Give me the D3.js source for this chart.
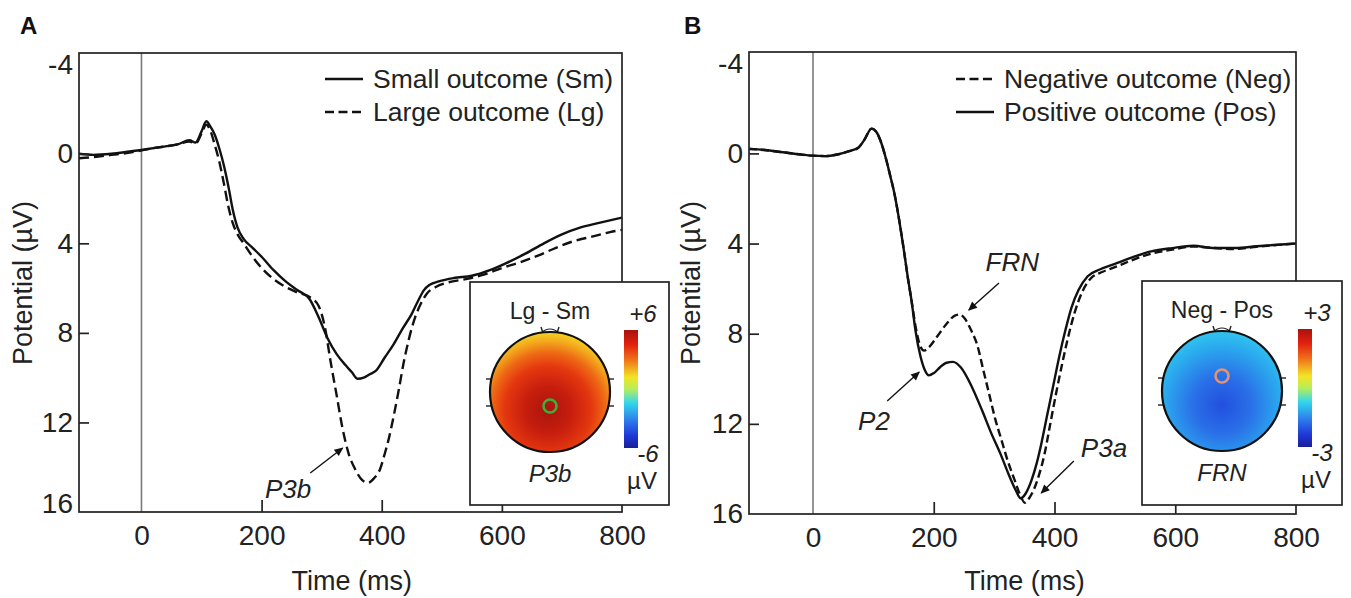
<!DOCTYPE html>
<html>
<head>
<meta charset="utf-8">
<script src="https://cdn.jsdelivr.net/npm/d3@7"></script>
<style>
  body { margin: 0; background: #fff; }
  svg { display: block; font-family: "Liberation Sans", Arial, Helvetica, sans-serif; }
</style>
</head>
<body>
<script>
// ---- data ----
// panel A: small vs large outcome
var timeSm = [-104, -80, -50, -20, 0, 20, 40, 60, 80, 90, 100, 108, 115, 122, 130, 137, 145, 152, 160, 170, 185, 200, 220, 240, 260, 280, 295, 310, 325, 340, 350, 360, 370, 380, 390, 405, 420, 435, 450, 460, 470, 480, 495, 520, 550, 580, 610, 640, 670, 700, 730, 760, 800];
var small = [0.0, 0.05, 0.0, -0.1, -0.17, -0.25, -0.33, -0.42, -0.6, -0.5, -1.0, -1.45, -1.2, -0.85, -0.2, 0.5, 1.5, 2.5, 3.3, 3.8, 4.2, 4.6, 5.2, 5.7, 6.1, 6.5, 7.3, 8.25, 8.95, 9.45, 9.75, 10.05, 10.0, 9.85, 9.7, 9.1, 8.5, 7.8, 7.15, 6.6, 6.1, 5.85, 5.7, 5.55, 5.45, 5.2, 4.85, 4.45, 4.0, 3.6, 3.3, 3.1, 2.85];

var timeLg = [-104, -80, -50, -20, 0, 20, 40, 60, 80, 90, 100, 108, 115, 122, 130, 137, 145, 152, 160, 170, 185, 200, 220, 240, 260, 280, 295, 305, 315, 325, 335, 345, 355, 365, 377, 387, 397, 405, 412, 420, 428, 436, 445, 455, 465, 475, 490, 510, 540, 570, 600, 630, 660, 690, 720, 750, 780, 800];
var large = [0.2, 0.15, 0.05, -0.05, -0.15, -0.25, -0.33, -0.42, -0.55, -0.45, -0.9, -1.3, -1.0, -0.4, 0.4, 1.3, 2.4, 3.1, 3.6, 4.0, 4.6, 5.1, 5.6, 5.95, 6.2, 6.4, 6.8, 7.7, 9.3, 10.8, 12.3, 13.4, 14.05, 14.5, 14.7, 14.5, 14.1, 13.4, 12.7, 11.7, 10.6, 9.4, 8.3, 7.35, 6.7, 6.25, 5.95, 5.75, 5.6, 5.4, 5.1, 4.85, 4.55, 4.2, 3.9, 3.7, 3.5, 3.4];

// panel B: negative vs positive outcome
var timeNeg = [-106, -80, -50, -20, 0, 20, 40, 60, 75, 85, 97, 105, 112, 120, 128, 135, 143, 150, 157, 163, 170, 177, 184, 192, 205, 220, 235, 243, 252, 262, 272, 282, 292, 302, 312, 322, 334, 343, 351, 358, 366, 374, 383, 393, 403, 413, 423, 433, 445, 460, 480, 500, 530, 560, 595, 630, 665, 700, 735, 770, 800];
var negative = [-0.2, -0.15, -0.05, 0.05, 0.1, 0.12, 0.05, -0.1, -0.25, -0.6, -1.1, -0.95, -0.55, 0.15, 1.0, 1.8, 3.0, 4.2, 5.5, 6.5, 7.7, 8.5, 8.75, 8.6, 8.15, 7.6, 7.2, 7.15, 7.35, 7.85, 8.5, 9.6, 10.7, 11.8, 12.7, 13.6, 14.5, 15.15, 15.5, 15.3, 14.9, 14.3, 13.4, 12.0, 10.6, 9.3, 8.1, 7.1, 6.2, 5.55, 5.25, 5.05, 4.72, 4.45, 4.27, 4.13, 4.2, 4.24, 4.14, 4.06, 4.0];

var timePos = [-106, -80, -50, -20, 0, 20, 40, 60, 75, 85, 97, 105, 112, 120, 128, 135, 143, 150, 157, 163, 170, 178, 185, 192, 200, 210, 220, 232, 245, 263, 280, 295, 310, 325, 335, 344, 352, 362, 370, 378, 388, 398, 408, 418, 428, 440, 455, 475, 500, 530, 560, 595, 630, 665, 700, 735, 770, 800];
var positive = [-0.2, -0.15, -0.05, 0.05, 0.1, 0.12, 0.05, -0.1, -0.25, -0.6, -1.1, -0.95, -0.55, 0.15, 1.0, 1.8, 3.0, 4.2, 5.5, 6.5, 7.9, 9.0, 9.6, 9.85, 9.75, 9.5, 9.3, 9.25, 9.5, 10.35, 11.4, 12.4, 13.3, 14.3, 14.9, 15.3, 15.1, 14.5, 13.8, 12.9, 11.6, 10.3, 9.0, 7.85, 6.85, 6.05, 5.45, 5.15, 4.9, 4.6, 4.35, 4.2, 4.1, 4.2, 4.2, 4.12, 4.05, 4.0];

// axis ticks
var xTicks = [0, 200, 400, 600, 800];
var yTicks = [-4, 0, 4, 8, 12, 16];
var yTickMarks = [0, 4, 8, 12];
var xTickMarks = [200, 400, 600];

// legend + annotation text
var legendA = ["Small outcome (Sm)", "Large outcome (Lg)"];
var legendB = ["Negative outcome (Neg)", "Positive outcome (Pos)"];
// [label, text t, text v, tail t, tail v, head t, head v]
var notesA = [["P3b", 244, 14.97, 281, 14.26, 335, 13.14]];
var notesB = [["FRN", 330, 4.82, 308, 5.75, 258, 6.95],
              ["P2", 101, 11.87, 123, 10.99, 176, 9.7],
              ["P3a", 482, 13.07, 432, 13.65, 378, 15.07]];
// topomap scales
var scaleA = ["+6", "-6"];
var scaleB = ["+3", "-3"];

// ---- svg ----
var W = 1351, H = 598;
var svg = d3.select("body").append("svg").attr("width", W).attr("height", H);
var defs = svg.append("defs");

defs.append("marker")
  .attr("id", "arrow")
  .attr("viewBox", "0 0 10 10")
  .attr("refX", 9).attr("refY", 5)
  .attr("markerUnits", "userSpaceOnUse")
  .attr("markerWidth", 11).attr("markerHeight", 9)
  .attr("orient", "auto")
  .append("path").attr("d", "M0,0.5 L10,5 L0,9.5 z").attr("fill", "#111");

// jet colour bar
var jet = defs.append("linearGradient").attr("id", "jet")
  .attr("x1", 0).attr("y1", 0).attr("x2", 0).attr("y2", 1);
[[0, "#a8120e"], [0.12, "#e2200e"], [0.25, "#f0701a"], [0.4, "#f3e425"], [0.5, "#b6ee5c"],
 [0.62, "#31d6ee"], [0.78, "#2d74ea"], [0.9, "#1f35d6"], [1, "#1a1f98"]].forEach(function(s) {
  jet.append("stop").attr("offset", s[0]).attr("stop-color", s[1]);
});

function radial(id, cx, cy, r, stops) {
  var g = defs.append("radialGradient").attr("id", id)
    .attr("gradientUnits", "userSpaceOnUse")
    .attr("cx", cx).attr("cy", cy).attr("r", r);
  stops.forEach(function(s) { g.append("stop").attr("offset", s[0]).attr("stop-color", s[1]); });
}
radial("headA", 548, 410, 80, [[0, "#a8150c"], [0.3, "#c81e0e"], [0.55, "#e4380f"], [0.72, "#ee6a15"], [0.86, "#f3a81c"], [1, "#f5dc26"]]);
radial("headB", 1222, 405, 82, [[0, "#2150de"], [0.35, "#2a6fe8"], [0.7, "#2aa8ee"], [1, "#34d2f0"]]);

// ---- one panel ----
function drawPanel(p) {
  var g = svg.append("g");
  var x = d3.scaleLinear().domain(p.xDomain).range([p.left, p.right]);
  var y = d3.scaleLinear().domain([-4.5, 16]).range([p.top, p.bottom]);
  var plain = function(d) { return String(d); };

  // zero line
  g.append("line")
    .attr("x1", x(0)).attr("x2", x(0)).attr("y1", p.top).attr("y2", p.bottom)
    .attr("stroke", "#7a7a7a").attr("stroke-width", 1.6);

  // curves
  var line = d3.line()
    .x(function(d) { return x(d[0]); })
    .y(function(d) { return y(d[1]); })
    .curve(d3.curveMonotoneX);

  p.series.forEach(function(s) {
    g.append("path")
      .datum(d3.zip(s.t, s.v))
      .attr("d", line)
      .attr("fill", "none")
      .attr("stroke", "#111")
      .attr("stroke-width", 2.4)
      .attr("stroke-linejoin", "round")
      .attr("stroke-dasharray", s.dash ? p.dash : null);
  });

  // frame
  g.append("rect")
    .attr("x", p.left).attr("y", p.top)
    .attr("width", p.right - p.left).attr("height", p.bottom - p.top)
    .attr("fill", "none").attr("stroke", "#222").attr("stroke-width", 1.7);

  // y axis labels
  var yAxis = g.append("g").attr("transform", "translate(" + p.left + ",0)")
    .call(d3.axisLeft(y).tickValues(yTicks).tickSize(0).tickPadding(6).tickFormat(plain));
  // inward y ticks
  g.append("g").attr("transform", "translate(" + p.left + ",0)")
    .call(d3.axisRight(y).tickValues(yTickMarks).tickSize(10).tickFormat(""));
  // x axis labels
  g.append("g").attr("transform", "translate(0," + p.bottom + ")")
    .call(d3.axisBottom(x).tickValues(xTicks).tickSize(0).tickPadding(13).tickFormat(plain));
  // inward x ticks
  g.append("g").attr("transform", "translate(0," + p.bottom + ")")
    .call(d3.axisTop(x).tickValues(xTickMarks).tickSize(12).tickFormat(""));

  g.selectAll(".domain").remove();
  g.selectAll(".tick line").attr("stroke", "#222").attr("stroke-width", 1.7);
  g.selectAll(".tick text").attr("font-size", 28).attr("fill", "#222")
    .attr("font-family", "Liberation Sans, Arial, sans-serif");
  if (p.lift16) {
    yAxis.selectAll(".tick text").filter(function(d) { return d === 16; }).attr("dy", "0.02em");
  }

  // axis titles
  g.append("text")
    .attr("x", x(400) - 30).attr("y", 581)
    .attr("text-anchor", "middle").attr("dominant-baseline", "central")
    .attr("font-size", 27).attr("fill", "#222")
    .text("Time (ms)");
  g.append("text")
    .attr("transform", "translate(" + p.ylabX + ",283) rotate(-90)")
    .attr("text-anchor", "middle").attr("dominant-baseline", "central")
    .attr("font-size", 27).attr("fill", "#222")
    .text("Potential (µV)");

  // panel letter
  g.append("text").attr("x", p.letterX).attr("y", 34)
    .attr("font-size", 24).attr("font-weight", "bold").attr("fill", "#111")
    .text(p.letter);

  // legend
  p.legend.forEach(function(txt, i) {
    var ly = 79 + i * 33;
    g.append("line")
      .attr("x1", p.legX).attr("x2", p.legX + 38).attr("y1", ly).attr("y2", ly)
      .attr("stroke", "#111").attr("stroke-width", 2.4)
      .attr("stroke-dasharray", p.legDash[i] ? "9,4.5" : null);
    g.append("text")
      .attr("x", p.legX + 48).attr("y", ly)
      .attr("dominant-baseline", "central")
      .attr("font-size", 26.5).attr("fill", "#222")
      .text(txt);
  });

  // annotations
  p.notes.forEach(function(n) {
    g.append("line")
      .attr("x1", x(n[3])).attr("y1", y(n[4]))
      .attr("x2", x(n[5])).attr("y2", y(n[6]))
      .attr("stroke", "#111").attr("stroke-width", 1.4)
      .attr("marker-end", "url(#arrow)");
    g.append("text")
      .attr("x", x(n[1])).attr("y", y(n[2]))
      .attr("text-anchor", "middle").attr("dominant-baseline", "central")
      .attr("font-size", 26).attr("font-style", "italic").attr("fill", "#222")
      .text(n[0]);
  });

  // inset topomap
  var b = p.inset;
  var ins = g.append("g");
  ins.append("rect")
    .attr("x", b.x).attr("y", b.y).attr("width", b.w).attr("height", b.h)
    .attr("fill", "#fff").attr("stroke", "#222").attr("stroke-width", 1.7);
  var hx = b.x + 80, hy = b.y + 110, hr = 60;
  // nose + ears
  var marks = [
    [hx - 7, hy - hr + 1, hx - 9, hy - hr - 5],
    [hx + 7, hy - hr + 1, hx + 9, hy - hr - 5],
    [hx - hr - 4, hy - 13, hx - hr + 3, hy - 13],
    [hx - hr - 4, hy + 14, hx - hr + 3, hy + 14],
    [hx + hr - 3, hy - 13, hx + hr + 4, hy - 13],
    [hx + hr - 3, hy + 14, hx + hr + 4, hy + 14]
  ];
  ins.selectAll("line.mark").data(marks).enter().append("line")
    .attr("x1", function(d) { return d[0]; }).attr("y1", function(d) { return d[1]; })
    .attr("x2", function(d) { return d[2]; }).attr("y2", function(d) { return d[3]; })
    .attr("stroke", "#222").attr("stroke-width", 1.4);
  ins.append("path")
    .attr("d", "M" + (hx - 9) + "," + (hy - hr + 1) + " Q" + hx + "," + (hy - hr - 7) + " " + (hx + 9) + "," + (hy - hr + 1))
    .attr("fill", "none").attr("stroke", "#222").attr("stroke-width", 1.1);
  ins.append("circle").attr("cx", hx).attr("cy", hy).attr("r", hr)
    .attr("fill", "url(#" + b.grad + ")").attr("stroke", "#111").attr("stroke-width", 2.2);
  ins.append("circle").attr("cx", hx).attr("cy", hy + b.dotDy).attr("r", 6.5)
    .attr("fill", "none").attr("stroke", b.dot).attr("stroke-width", 2.6);
  // colour bar
  var cbx = b.x + b.barDx;
  ins.append("rect").attr("x", cbx).attr("y", b.y + 48).attr("width", 14).attr("height", 118)
    .attr("fill", "url(#jet)");
  ins.append("text").attr("x", hx).attr("y", b.y + 29)
    .attr("text-anchor", "middle").attr("dominant-baseline", "central")
    .attr("font-size", 23).attr("fill", "#222").text(b.title);
  ins.append("text").attr("x", hx).attr("y", b.y + 191)
    .attr("text-anchor", "middle").attr("dominant-baseline", "central")
    .attr("font-size", 24).attr("font-style", "italic").attr("fill", "#222").text(b.comp);
  ins.append("text").attr("x", cbx + 19).attr("y", b.y + 31)
    .attr("text-anchor", "middle").attr("dominant-baseline", "central")
    .attr("font-size", 24).attr("font-style", "italic").attr("fill", "#222").text(b.scale[0]);
  ins.append("text").attr("x", cbx + 24).attr("y", b.y + 171)
    .attr("text-anchor", "middle").attr("dominant-baseline", "central")
    .attr("font-size", 24).attr("font-style", "italic").attr("fill", "#222").text(b.scale[1]);
  ins.append("text").attr("x", cbx + 18).attr("y", b.y + 198)
    .attr("text-anchor", "middle").attr("dominant-baseline", "central")
    .attr("font-size", 24).attr("fill", "#222").text("µV");
}

drawPanel({
  letter: "A", letterX: 20,
  xDomain: [-104, 800], left: 79, right: 622, top: 53, bottom: 512,
  series: [{t: timeSm, v: small, dash: false}, {t: timeLg, v: large, dash: true}],
  dash: "10,5", lift16: true, ylabX: 23,
  legend: legendA, legDash: [false, true], legX: 325,
  notes: notesA,
  inset: {x: 470, y: 282, w: 199, h: 223, grad: "headA", dot: "#3fae3c", dotDy: 14,
          barDx: 154, title: "Lg - Sm", comp: "P3b", scale: scaleA}
});

drawPanel({
  letter: "B", letterX: 684,
  xDomain: [-106, 800], left: 749, right: 1296, top: 52, bottom: 514,
  series: [{t: timeNeg, v: negative, dash: true}, {t: timePos, v: positive, dash: false}],
  dash: "8,4", lift16: false, ylabX: 691,
  legend: legendB, legDash: [true, false], legX: 956,
  notes: notesB,
  inset: {x: 1142, y: 281, w: 200, h: 224, grad: "headB", dot: "#e39372", dotDy: -15,
          barDx: 156, title: "Neg - Pos", comp: "FRN", scale: scaleB}
});
</script>
</body>
</html>
